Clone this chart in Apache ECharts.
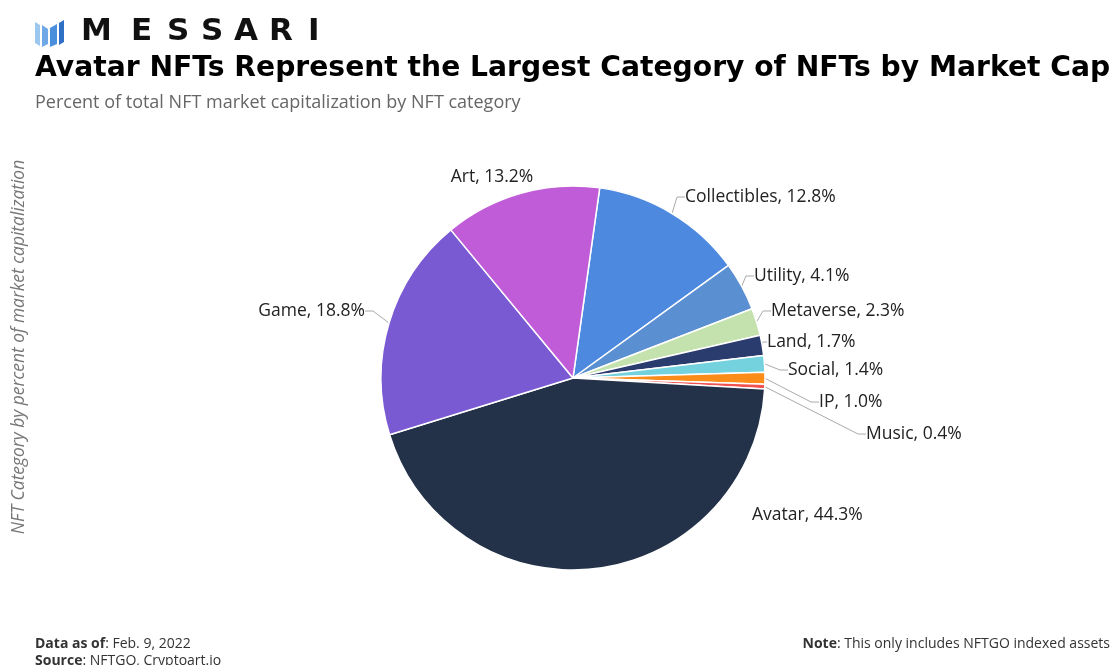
<!DOCTYPE html>
<html><head><meta charset="utf-8">
<script src="https://cdn.jsdelivr.net/npm/echarts@6/dist/echarts.min.js"></script>
<style>html,body{margin:0;padding:0;background:#fff}#c{width:1119px;height:665px}</style>
</head><body><div id="c"></div>
<script>
const categories = ['Collectibles','Utility','Metaverse','Land','Social','IP','Music','Avatar','Game','Art'];
const values = [12.8, 4.1, 2.3, 1.7, 1.4, 1.0, 0.4, 44.3, 18.8, 13.2];
const colors = ['#4E89E0','#5A8FD2','#C4E2AE','#2A3B6E','#74D2DE','#FB8C1A','#F0524F','#233249','#7A5AD3','#C05CD8'];

// label placement (text anchor, pixel positions of label text, not marks)
const labelSpots = {
  Collectibles:{x:685,y:197,align:'left'},
  Utility:{x:754,y:276,align:'left'},
  Metaverse:{x:771,y:311,align:'left'},
  Land:{x:767,y:342,align:'left'},
  Social:{x:788,y:370,align:'left'},
  IP:{x:819,y:402,align:'left'},
  Music:{x:866,y:434,align:'left'},
  Avatar:{x:752,y:515,align:'left'},
  Game:{x:365,y:311,align:'right'},
  Art:{x:492,y:177,align:'center'}
};
const noLine = {Avatar:true, Art:true};

const logoLetters = ['M','E','S','S','A','R','I'];
const logoLefts = [81,131,167,201,234,269,308];

const chart = echarts.init(document.getElementById('c'), null, {renderer:'canvas'});
const lf = '"Open Sans", sans-serif';
const graphics = [
  {type:'polygon', shape:{points:[[35,22],[40,25],[40,46],[35,43]]}, style:{fill:'#9CC8F0'}},
  {type:'polygon', shape:{points:[[42,25],[48,29],[48,44],[42,47]]}, style:{fill:'#6FA8E6'}},
  {type:'polygon', shape:{points:[[50,28],[57,24],[57,44],[50,47]]}, style:{fill:'#4A8FDC'}},
  {type:'polygon', shape:{points:[[59,23],[64,20],[64,42],[59,45]]}, style:{fill:'#2F6FC6'}},
  {type:'text', left:35, top:55, style:{text:'Avatar NFTs Represent the Largest Category of NFTs by Market Cap', font:'bold 28.2px "DejaVu Sans", sans-serif', fill:'#000'}},
  {type:'text', left:35, top:94, style:{text:'Percent of total NFT market capitalization by NFT category', font:'18px '+lf, fill:'#666'}},
  {type:'text', x:19, y:347, rotation:Math.PI/2, style:{text:'NFT Category by percent of market capitalization', font:'italic 17.4px '+lf, fill:'#777', align:'center', verticalAlign:'middle'}},
  {type:'text', left:35, top:637, style:{rich:{b:{font:'bold 14px '+lf, fill:'#333'}, n:{font:'14px '+lf, fill:'#333'}}, text:'{b|Data as of}{n|: Feb. 9, 2022}', font:'14px '+lf}},
  {type:'text', left:35, top:654, style:{rich:{b:{font:'bold 14px '+lf, fill:'#333'}, n:{font:'14px '+lf, fill:'#333'}}, text:'{b|Source}{n|: NFTGO, Cryptoart.io}', font:'14px '+lf}},
  {type:'text', right:9, top:637, style:{rich:{b:{font:'bold 14px '+lf, fill:'#333'}, n:{font:'14px '+lf, fill:'#333'}}, text:'{b|Note}{n|: This only includes NFTGO indexed assets}', font:'14px '+lf}}
];
logoLetters.forEach((ch,i)=>graphics.push({type:'text', x:logoLefts[i], y:16, style:{text:ch, font:'bold 31px "DejaVu Sans", sans-serif', fill:'#111'}}));

chart.setOption({
  animation:false,
  backgroundColor:'#fff',
  graphic:graphics,
  series:[{
    type:'pie',
    center:[573,378],
    radius:[0,192],
    startAngle:82,
    clockwise:true,
    color:colors,
    itemStyle:{borderColor:'#fff', borderWidth:1.5},
    label:{show:true, formatter:(p)=>p.name+', '+p.value.toFixed(1)+'%', fontFamily:lf, fontSize:17.5, color:'#222'},
    labelLine:{show:true, length:10, length2:8, lineStyle:{color:'#aaa', width:1}},
    labelLayout:function(p){
      const s = labelSpots[categories[p.dataIndex]];
      return {x:s.x, y:s.y, align:s.align, verticalAlign:'middle', hideOverlap:false, moveOverlap:null};
    },
    data: categories.map((n,i)=>({name:n, value:values[i], labelLine:{show:!noLine[n]}}))
  }]
});
</script></body></html>
